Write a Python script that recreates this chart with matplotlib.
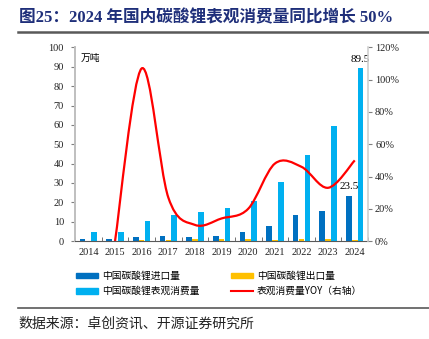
import numpy as np
import matplotlib
matplotlib.use("Agg")
from matplotlib import pyplot as plt
from matplotlib.path import Path
from matplotlib.patches import PathPatch, Patch
from matplotlib.lines import Line2D

plt.rcParams['font.family'] = ['Liberation Serif', 'Noto Sans CJK SC', 'DejaVu Sans']

##Daten
years = ["2014", "2015", "2016", "2017", "2018", "2019", "2020", "2021", "2022", "2023", "2024"]
imports = [1.0, 0.8, 2.0, 2.8, 2.2, 2.8, 4.8, 8.0, 13.4, 15.7, 23.5]
exports = [0.2, 0.2, 0.3, 0.4, 1.1, 1.3, 0.8, 0.6, 1.0, 0.8, 0.3]
consumption = [4.8, 4.8, 10.3, 13.6, 15.0, 17.0, 20.6, 30.3, 44.7, 59.4, 89.5]
yoy_years = ["2015", "2016", "2017", "2018", "2019", "2020", "2021", "2022", "2023", "2024"]
yoy = [0, 107, 27, 10, 14, 20, 48, 46, 33, 50]  # in %

c_imp = "#0070C0"
c_exp = "#FFC000"
c_con = "#00B0F0"
c_yoy = "#FF0000"
cjk = ['Noto Sans CJK SC', 'DejaVu Sans']

fig = plt.figure(figsize=(4.29, 3.39), dpi=100)
ax = fig.add_axes([0.175, 0.289, 0.683, 0.571])
ax2 = ax.twinx()

x = np.arange(len(years))
w = 0.21
b_imp = ax.bar(x - 0.22, imports, w, color=c_imp, zorder=2)
b_exp = ax.bar(x, exports, w, color=c_exp, zorder=2)
b_con = ax.bar(x + 0.22, consumption, w, color=c_con, zorder=2)

ax.bar_label(b_con, labels=[""] * 10 + ["%.1f" % consumption[-1]], padding=3, fontsize=8)
ax.bar_label(b_imp, labels=[""] * 10 + ["%.1f" % imports[-1]], padding=3, fontsize=8)

# geglaettete Linie (wie Excel)
xi = np.array([years.index(y) for y in yoy_years], dtype=float)
yi = np.array(yoy, dtype=float)
pts = np.column_stack([xi, yi])
n = len(pts)
d = np.zeros_like(pts)
for i in range(n):
    a = pts[max(i - 1, 0)]
    b = pts[min(i + 1, n - 1)]
    d[i] = (b - a) / 6.0
verts = [tuple(pts[0])]
codes = [Path.MOVETO]
for i in range(n - 1):
    verts += [tuple(pts[i] + d[i]), tuple(pts[i + 1] - d[i + 1]), tuple(pts[i + 1])]
    codes += [Path.CURVE4] * 3
ax2.add_patch(PathPatch(Path(verts, codes), fill=False, edgecolor=c_yoy, lw=1.6, zorder=3))

ax.set_xlim(-0.5, len(years) - 0.5)
ax.set_ylim(0, 100)
ax.set_yticks(np.arange(0, 101, 10))
ax2.set_ylim(0, 120)
ax2.set_yticks(np.arange(0, 121, 20))
ax2.set_yticklabels(["%d%%" % v for v in range(0, 121, 20)])
ax.set_xticks(x)
ax.set_xticklabels(years)
ax.set_xticks(np.arange(-0.5, len(years), 1), minor=True)

for a in (ax, ax2):
    a.spines['top'].set_visible(False)
    a.tick_params(labelsize=7.5, colors="#222222")
ax.spines['left'].set_color("#BFBFBF")
ax.spines['left'].set_linewidth(1.4)
ax.spines['right'].set_visible(False)
ax2.spines['left'].set_visible(False)
ax2.spines['right'].set_color("#D0D0D0")
ax2.spines['right'].set_linewidth(1.2)
ax.spines['bottom'].set_color("#595959")
ax2.spines['bottom'].set_visible(False)
ax.tick_params(axis='y', length=3, color="#7F7F7F", pad=5)
ax2.tick_params(axis='y', length=3, color="#7F7F7F", pad=2)
ax.tick_params(axis='x', which='major', length=0, pad=5)
ax.tick_params(axis='x', which='minor', direction='in', length=3, color="#595959")

ax.text(0.02, 0.97, "万吨", transform=ax.transAxes, fontsize=7, family=cjk,
        ha='left', va='top', style='italic')

handles = [Patch(color=c_imp), Patch(color=c_con), Patch(color=c_exp),
           Line2D([], [], color=c_yoy, lw=1.5)]
labels = ["中国碳酸锂进口量", "中国碳酸锂表观消费量", "中国碳酸锂出口量", "表观消费量YOY（右轴）"]
fig.legend(handles, labels, ncol=2, loc='upper left', bbox_to_anchor=(0.165, 0.215),
           frameon=False, fontsize=7, handlelength=2.3, handleheight=0.5,
           handletextpad=0.4, columnspacing=3.2, labelspacing=0.55, borderpad=0,
           prop={'family': cjk, 'size': 7})

fig.text(0.045, 0.947, "图25：2024 年国内碳酸锂表观消费量同比增长 50%", fontsize=12,
         weight='bold', color="#1F2F7A", ha='left', va='center')
fig.add_artist(Line2D([0.042, 1.0], [0.905, 0.905], color="#595959", lw=1.8))
fig.add_artist(Line2D([0.042, 1.0], [0.09, 0.09], color="#595959", lw=1.2))
fig.text(0.042, 0.045, "数据来源：卓创资讯、开源证券研究所", fontsize=10,
         family=cjk, color="#222222", ha='left', va='center')

fig.savefig("out.png", dpi=100)
